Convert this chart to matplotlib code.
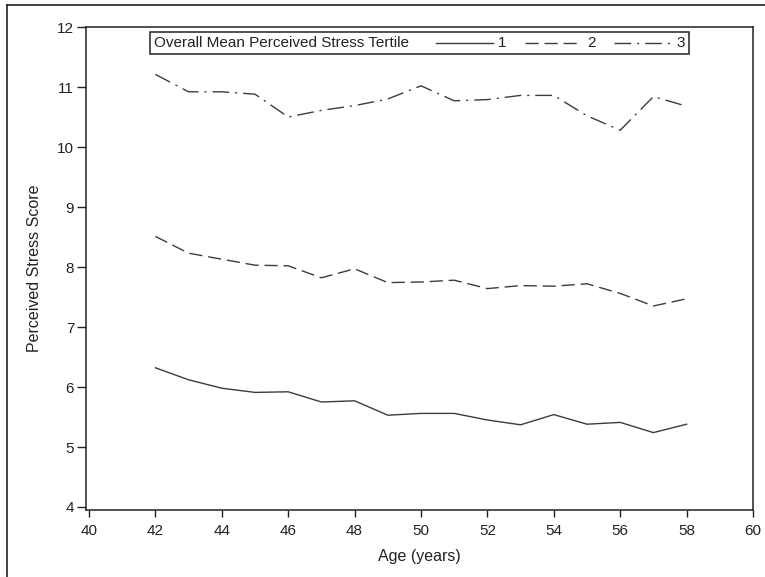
import matplotlib
matplotlib.use("Agg")
import matplotlib.pyplot as plt
from matplotlib.lines import Line2D
from matplotlib.offsetbox import AnchoredOffsetbox, HPacker, TextArea, DrawingArea

plt.rcParams['font.family'] = ['Liberation Sans', 'DejaVu Sans']

ages = [42, 43, 44, 45, 46, 47, 48, 49, 50, 51, 52, 53, 54, 55, 56, 57, 58]
tertile1 = [6.32, 6.12, 5.98, 5.91, 5.92, 5.75, 5.77, 5.53, 5.56, 5.56, 5.45, 5.37, 5.54, 5.38, 5.41, 5.24, 5.38]
tertile2 = [8.51, 8.23, 8.13, 8.03, 8.02, 7.82, 7.97, 7.74, 7.75, 7.78, 7.64, 7.69, 7.68, 7.72, 7.56, 7.35, 7.47]
tertile3 = [11.21, 10.92, 10.92, 10.88, 10.50, 10.61, 10.69, 10.80, 11.02, 10.77, 10.79, 10.86, 10.86, 10.52, 10.28, 10.84, 10.68]
series_labels = ['1', '2', '3']
legend_title = 'Overall Mean Perceived Stress Tertile'
xticks = [40, 42, 44, 46, 48, 50, 52, 54, 56, 58, 60]
yticks = [4, 5, 6, 7, 8, 9, 10, 11, 12]

W, H = 765, 577
fig = plt.figure(figsize=(W / 100, H / 100), dpi=100)
ax = fig.add_axes([86 / W, 1 - 510 / H, (753 - 86) / W, (510 - 27) / H])

col = '#3c3c3c'
tc = '#222222'
fs = 11
styles = [
    dict(linestyle='-'),
    dict(linestyle=(0, (9.5, 4.2))),
    dict(linestyle=(0, (12, 4.3, 1.5, 4.3))),
]
for vals, st in zip([tertile1, tertile2, tertile3], styles):
    ax.plot(ages, vals, color=col, lw=1.0, **st)

ax.set_xlim(40 - 3 / 33.2, 60)
ax.set_ylim(4 - 3 / 60, 12)
ax.set_xticks(xticks)
ax.set_yticks(yticks)
for s in ax.spines.values():
    s.set_color(tc)
    s.set_linewidth(1.1)
ax.tick_params(axis='y', length=6.5, width=1, direction='out', labelsize=fs, pad=2, colors=tc)
ax.tick_params(axis='x', length=5, width=1, direction='out', labelsize=fs, pad=5, colors=tc)
ax.set_xlabel('Age (years)', fontsize=11.5, labelpad=8, color=tc)
ax.set_ylabel('Perceived Stress Score', fontsize=11.5, labelpad=11, color=tc)

# legend built from offsetboxes
entries = []
for lab, st in zip(series_labels, styles):
    da = DrawingArea(41, 8, 0, 0)
    da.add_artist(Line2D([0, 41], [4, 4], color=col, lw=1.0, **st))
    entries.append(HPacker(children=[da, TextArea(lab, textprops=dict(fontsize=fs, color=tc))],
                           align='center', pad=0, sep=4))
title_box = HPacker(children=[TextArea(legend_title, textprops=dict(fontsize=fs, color=tc)),
                              DrawingArea(6, 2, 0, 0)], align='center', pad=0, sep=0)
box = HPacker(children=[title_box] + entries, align='center', pad=0, sep=13)
anch = AnchoredOffsetbox(loc='upper center', child=box, pad=0.3, borderpad=0.35,
                         frameon=True, bbox_to_anchor=(0.5, 1.0), bbox_transform=ax.transAxes)
anch.patch.set_edgecolor(tc)
anch.patch.set_linewidth(1.1)
anch.patch.set_boxstyle('square', pad=0)
ax.add_artist(anch)

# outer border lines (left and top)
fig.add_artist(Line2D([7 / W, 7 / W], [0, 1 - 5 / H], color=tc, lw=1.2, transform=fig.transFigure))
fig.add_artist(Line2D([7 / W, 1], [1 - 5 / H, 1 - 5 / H], color=tc, lw=1.2, transform=fig.transFigure))

fig.savefig('out.png', dpi=100)
